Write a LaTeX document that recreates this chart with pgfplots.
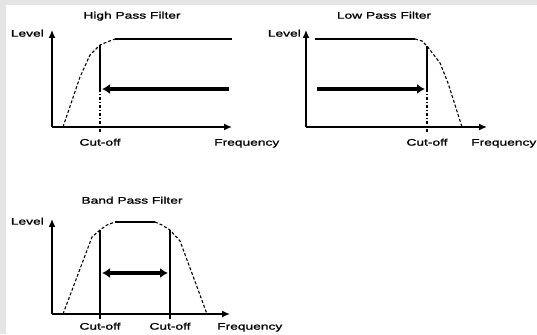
\documentclass[border=0pt]{standalone}
\usepackage{pgfplots}
\pgfplotsset{compat=1.18}
\usetikzlibrary{arrows.meta}
\usepackage{fontspec}
\setmainfont{Liberation Sans}[FakeStretch=1.45, FakeBold=1.2]
\tikzset{
  txt/.style={font=\fontsize{9.5}{10}\selectfont, inner sep=0pt},
  crv/.style={line width=1.1pt},
  big/.style={line width=3.6pt}
}
\pgfplotsset{
  filt/.style={scale only axis, axis lines=left,
    axis line style={line width=1.4pt, -{Latex[length=8pt,width=7pt]}},
    xtick=\empty, ytick=\empty, clip=false, xmin=0, ymin=0}
}
\begin{document}
\begin{tikzpicture}
\path[use as bounding box] (0pt,0pt) rectangle (537pt,334pt);
\fill[gray!20] (0pt,0pt) rectangle (6pt,334pt);
\fill[gray!20] (0pt,329pt) rectangle (537pt,334pt);

% High pass
\begin{axis}[filt, at={(52pt,207pt)}, width=180pt, height=97pt, xmax=180, ymax=97]
\addplot[crv, densely dashed] coordinates {(11,0)(28,50)(38,72)(48,82)(55,85)(63,88)};
\addplot[crv] coordinates {(63,88)(180,88)};
\addplot[line width=1.3pt] coordinates {(48,82)(48,38)};
\addplot[crv, dash dot] coordinates {(48,38)(48,-5)};
\addplot[big, -{Latex[length=8pt,width=10pt]}] coordinates {(177,38)(50,38)};
\node[txt, anchor=mid] at (axis cs:80,111) {High Pass Filter};
\node[txt, anchor=mid east] at (axis cs:-8,93) {Level};
\node[txt, anchor=mid] at (axis cs:48,-16) {Cut-off};
\node[txt, anchor=mid west] at (axis cs:162,-16) {Frequency};
\end{axis}

% Low pass
\begin{axis}[filt, at={(306pt,207pt)}, width=181pt, height=97pt, xmax=181, ymax=97]
\addplot[crv] coordinates {(9,88)(109,88)};
\addplot[crv, densely dashed] coordinates {(109,88)(116,86)(121,81)(134,64)(142,44)(156,0)};
\addplot[line width=1.3pt] coordinates {(121,81)(121,38)};
\addplot[crv, dash dot] coordinates {(121,38)(121,-5)};
\addplot[big, -{Latex[length=8pt,width=10pt]}] coordinates {(11,38)(119,38)};
\node[txt, anchor=mid] at (axis cs:78,111) {Low Pass Filter};
\node[txt, anchor=mid east] at (axis cs:-5,93) {Level};
\node[txt, anchor=mid] at (axis cs:121,-16) {Cut-off};
\node[txt, anchor=mid west] at (axis cs:165,-16) {Frequency};
\end{axis}

% Band pass
\begin{axis}[filt, at={(52pt,20pt)}, width=178pt, height=95pt, xmax=178, ymax=95]
\addplot[crv, densely dashed] coordinates {(11,0)(28,45)(40,77)(48,84)(55,89)(63,92)};
\addplot[crv] coordinates {(63,92)(103,92)};
\addplot[crv, densely dashed] coordinates {(103,92)(110,89)(118,84)(128,73)(141,38)(155,0)};
\addplot[line width=1.3pt] coordinates {(48,84)(48,-5)};
\addplot[line width=1.3pt] coordinates {(118,84)(118,-5)};
\addplot[big, {Latex[length=8pt,width=10pt]}-{Latex[length=8pt,width=10pt]}] coordinates {(50,41)(116,41)};
\node[txt, anchor=mid] at (axis cs:80,113) {Band Pass Filter};
\node[txt, anchor=mid east] at (axis cs:-8,92) {Level};
\node[txt, anchor=mid] at (axis cs:48,-13) {Cut-off};
\node[txt, anchor=mid] at (axis cs:118,-13) {Cut-off};
\node[txt, anchor=mid west] at (axis cs:165,-13) {Frequency};
\end{axis}
\end{tikzpicture}
\end{document}
